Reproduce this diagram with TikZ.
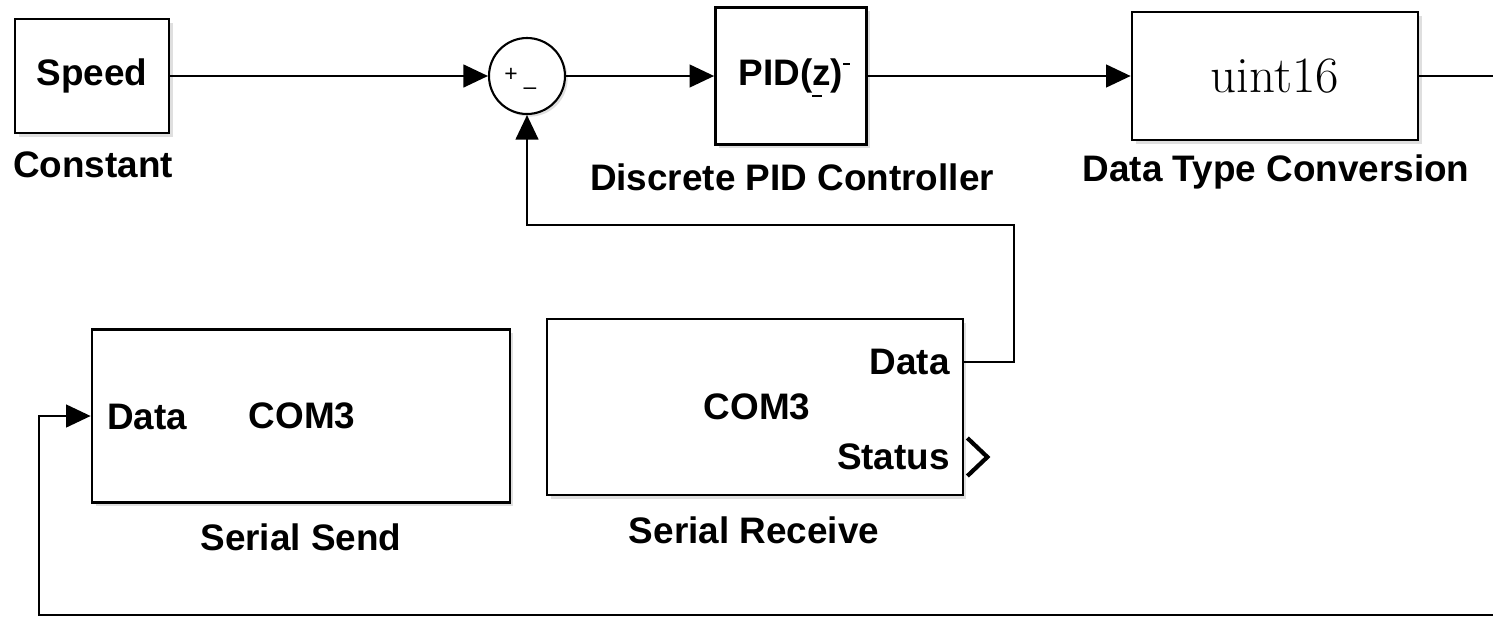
\documentclass[tikz,border=0pt]{standalone}
\usepackage{fontspec}
\setsansfont{Liberation Sans}
\usetikzlibrary{arrows.meta,shadows}

\begin{document}
\begin{tikzpicture}[x=0.02cm,y=-0.02cm,
  blk/.style={draw,line width=1.6pt,fill=white,drop shadow={shadow xshift=2pt,shadow yshift=-2pt,opacity=0.25}},
  sig/.style={line width=1.1pt,-{Triangle[length=14pt,width=13pt]}},
  wire/.style={line width=1.1pt},
  txt/.style={font=\sffamily\bfseries\fontsize{21}{25}\selectfont}]
\useasboundingbox (0,0) rectangle (1493,619);
\node[blk,txt,minimum width=3.08cm,minimum height=2.28cm] (const) at (92,76) {Speed};
\node[txt] (constlbl) at (93,165) {Constant};
\node[draw,circle,line width=1.2pt,fill=white,minimum size=1.52cm,inner sep=0pt,drop shadow={shadow xshift=1.5pt,shadow yshift=-1.5pt,opacity=0.25}] (sum) at (527,76) {};
\node[font=\sffamily\fontsize{13}{15}\selectfont] (plus) at (511,75) {+};
\node[font=\sffamily\fontsize{13}{15}\selectfont] (minus) at (530,91) {--};
\node[blk,txt,minimum width=3.02cm,minimum height=2.74cm] (pid) at (791,76) {PID(z)};
\draw[line width=0.9pt] (pid.center) ++(21,20) -- ++(10,0);
\draw[line width=0.9pt] (pid.center) ++(52,-12) -- ++(7,0);
\node[txt] (pidlbl) at (792,177) {Discrete PID Controller};
\node[blk,font=\fontsize{29}{34}\selectfont,minimum width=5.72cm,minimum height=2.56cm] (conv) at (1275,76) {uint16};
\node[txt] (convlbl) at (1276,172) {Data Type Conversion};
\node[blk,minimum width=8.36cm,minimum height=3.46cm] (send) at (301,416) {};
\node[txt,anchor=west] (sdata) at (101,417) {Data};
\node[txt] (scom) at (302,416) {COM3};
\node[txt] (sendlbl) at (301,537) {Serial Send};
\node[blk,minimum width=8.32cm,minimum height=3.52cm] (recv) at (755,407) {};
\node[txt,anchor=east] (rdata) at (956,362) {Data};
\node[txt] (rcom) at (757,407) {COM3};
\node[txt,anchor=east] (rstat) at (956,457) {Status};
\node[txt] (recvlbl) at (754,530) {Serial Receive};
\coordinate (outR) at (1493,76);
\coordinate (outB) at (1493,615);
\coordinate (loopL) at (39,615);
\coordinate (fbR) at (1014,225);
\draw[sig] (const) -- (sum);
\draw[sig] (sum) -- (pid);
\draw[sig] (pid) -- (conv);
\draw[wire] (conv) -- (outR);
\draw[sig] (outB) -- (loopL) |- (send.west);
\draw[sig] (rdata.east -| recv.east) -| (fbR) -| (sum.south);
\draw[line width=2.4pt] (rstat.east -| recv.east) ++(3,-19) -- ++(20,19) -- ++(-20,19);
\end{tikzpicture}
\end{document}
